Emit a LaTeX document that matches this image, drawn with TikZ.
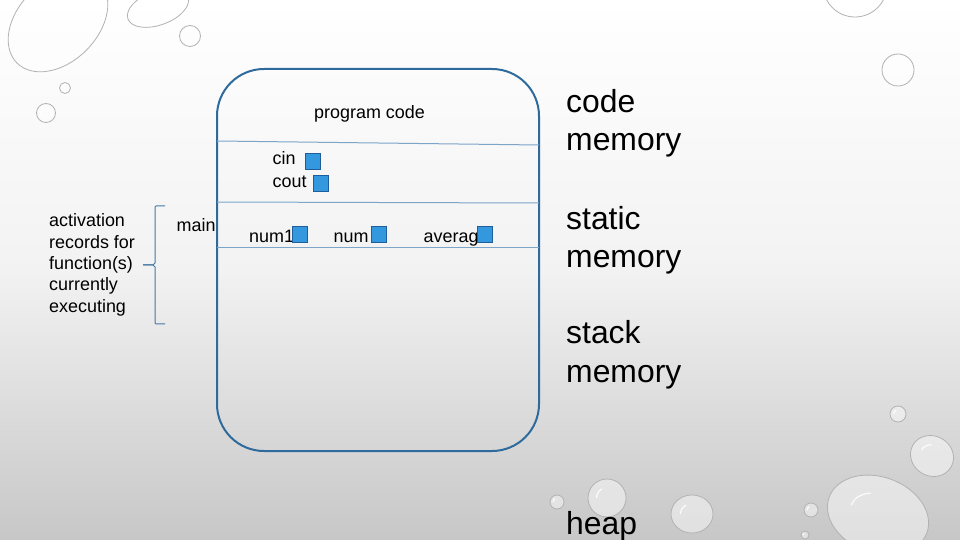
\documentclass[tikz,border=0pt]{standalone}
\usepackage{fontspec}
\setmainfont{Liberation Sans}
\begin{document}
\begin{tikzpicture}[x=1bp,y=-1bp,
  boxline/.style={draw={rgb,255:red,46;green,106;blue,155}, line width=2bp},
  sepline/.style={draw={rgb,255:red,125;green,165;blue,200}, line width=1bp},
  slot/.style={draw={rgb,255:red,30;green,95;blue,155}, fill={rgb,255:red,52;green,152;blue,222}, line width=0.8bp, minimum width=15bp, minimum height=16bp, inner sep=0, anchor=north west},
  small/.style={font=\fontsize{18}{21.5}\selectfont, inner sep=0, text=black},
  big/.style={font=\fontsize{32}{38.5}\selectfont, inner sep=0, text=black, align=left, anchor=north west},
  drop/.style={draw=black!30, line width=0.8bp, fill=white, fill opacity=0.45},
  bracecol/.style={draw={rgb,255:red,70;green,120;blue,165}, line width=1bp}
]
\useasboundingbox (0,0) rectangle (960,540);
% background
\shade[top color=white, bottom color=black!22, middle color=black!5] (0,0) rectangle (960,540);
% droplets
\foreach \cx/\cy/\rx/\ry/\ang in {58/22/58/40/45, 158/8/32/17/20, 190/36/10.5/10.5/0, 65/88/5.5/5.5/0, 46/113/9.5/9.5/0, 855/-15/32/32/0, 898/70/16/16/0, 898/414/8/8/0, 932/456/22/20/-30, 878/515/52/38/-20, 811/510/7/7/0, 805/535/4/4/0, 607/498/19/19/0, 557/502/7/7/0, 692/514/21/19/0}{
  \path[drop, rotate around={\ang:(\cx,\cy)}] (\cx,\cy) ellipse [x radius=\rx, y radius=\ry];
  \path[draw=white, line width=1.2bp, opacity=0.9, rotate around={\ang:(\cx,\cy)}] ([shift={(-0.55*\rx,0)}]\cx,\cy) arc[start angle=180, end angle=240, x radius=0.55*\rx, y radius=0.55*\ry];
}
% main memory box
\draw[boxline, rounded corners=47bp] (217,69) rectangle (539,451);
\coordinate (l1) at (217,141); \coordinate (r1) at (539,145);
\coordinate (l2) at (217,202); \coordinate (r2) at (539,203);
\coordinate (l3) at (217,248); \coordinate (r3) at (539,248);
\draw[sepline] (l1) -- (r1);
\draw[sepline] (l2) -- (r2);
\draw[sepline] (l3) -- (r3);
% texts in the box
\node[small, anchor=base west] (prog) at (314,119) {program code};
\node[small, anchor=base west] (cin) at (272.5,165) {cin};
\node[small, anchor=base west] (cout) at (272.5,187.5) {cout};
\node[small, anchor=base west] (main) at (176.5,232) {main};
\node[small, anchor=base west] (num1) at (249,242.5) {num1};
\node[small, anchor=base west] (num2) at (333.5,242.5) {num};
\node[small, anchor=base west] (avg) at (423.5,242.5) {averag};
% slots
\node[slot] (scin) at (305,153) {};
\node[slot] (scout) at (312.5,175) {};
\node[slot] (snum1) at (291.5,226.5) {};
\node[slot] (snum2) at (370.5,226.5) {};
\node[slot] (savg) at (477,226.5) {};
% left label and brace
\node[small, align=left, anchor=north west] (act) at (49,213.5) {activation\\records for\\function(s)\\currently\\executing};
\coordinate (btop) at (165,206);
\coordinate (bbot) at (165,324);
\coordinate (btip) at (143,265);
\draw[bracecol] (btop) -- (156,206) -- (155,207) -- (155,263) -- (153,265) -- (btip);
\draw[bracecol] (btip) -- (153,265) -- (155,267) -- (155,323) -- (156,324) -- (bbot);
% right labels
\node[big] (code) at (566,89) {code\\memory};
\node[big] (static) at (566,206) {static\\memory};
\node[big] (stack) at (566,320.5) {stack\\memory};
\node[big, anchor=base west, align=none] (heap) at (566,534) {heap};
\end{tikzpicture}
\end{document}
